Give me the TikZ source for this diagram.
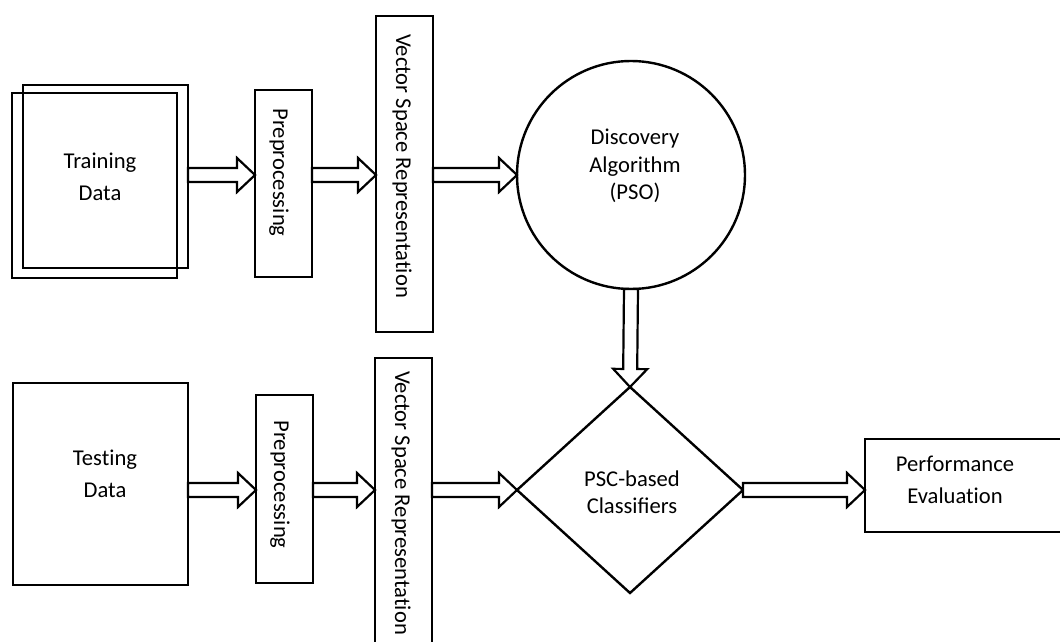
\documentclass[tikz,border=0pt]{standalone}
\usepackage{fontspec}
\setmainfont{Carlito}[Ligatures=NoCommon]
\usetikzlibrary{calc,shapes.geometric}
\tikzset{
  box/.style={draw, line width=2.4pt, inner sep=0pt, outer sep=0pt, rectangle},
  lbl/.style={align=center, inner sep=0pt, font=\fontsize{22.6}{32}\selectfont},
  lbltight/.style={align=center, inner sep=0pt, font=\fontsize{22.6}{27.5}\selectfont},
  barrow/.style={draw, line width=2.2pt, line join=miter, fill=white}
}
\newcommand\blockarrow[2]{%
  \draw[barrow] let \p1=(#1), \p2=(#2), \n1={atan2(\y2-\y1,\x2-\x1)}, \n2={veclen(\x2-\x1,\y2-\y1)} in
    ($(\p1)+(\n1+90:7pt)$)
    -- ($(\p1)+(\n1:{\n2-18pt})+(\n1+90:7pt)$)
    -- ($(\p1)+(\n1:{\n2-18pt})+(\n1+90:17pt)$)
    -- (\p2)
    -- ($(\p1)+(\n1:{\n2-18pt})+(\n1-90:17pt)$)
    -- ($(\p1)+(\n1:{\n2-18pt})+(\n1-90:7pt)$)
    -- ($(\p1)+(\n1-90:7pt)$) -- cycle;}
\begin{document}
\begin{tikzpicture}[x=1pt,y=-1pt]
\useasboundingbox (0,0) rectangle (1060,642);
\clip (0,0) rectangle (1060,642);
% top row
\node[box, minimum width=165pt, minimum height=183pt] (trainB) at (105.5,176.5) {};
\node[box, minimum width=165pt, minimum height=185pt] (trainF) at (94.5,185.5) {};
\node[lbl] (trainT) at (100,177) {Training\\Data};
\node[box, minimum width=57pt, minimum height=187pt] (pre1) at (283.5,183.5) {};
\node[lbl, rotate=-90] (pre1T) at (279,172.5) {Preprocessing};
\node[box, minimum width=57pt, minimum height=316pt] (vsr1) at (404.5,174) {};
\node[lbl, rotate=-90] (vsr1T) at (402,166) {Vector Space Representation};
\node[draw, line width=2.4pt, circle, minimum size=228pt, inner sep=0pt, outer sep=0pt] (circ) at (631,175) {};
\node[lbltight] (circT) at (635,166) {Discovery\\Algorithm\\(PSO)};
% bottom row
\node[box, minimum width=175pt, minimum height=202pt] (test) at (100.5,484) {};
\node[lbl] (testT) at (105,474) {Testing\\Data};
\node[box, minimum width=57pt, minimum height=188pt] (pre2) at (284.5,489) {};
\node[lbl, rotate=-90] (pre2T) at (280,484.5) {Preprocessing};
\node[box, minimum width=57pt, minimum height=322pt] (vsr2) at (403.5,519) {};
\node[lbl, rotate=-90] (vsr2T) at (401,503) {Vector Space Representation};
\node[draw, line width=2.4pt, diamond, minimum width=226pt, minimum height=206pt, inner sep=0pt, outer sep=0pt] (dia) at (630,490) {};
\node[lbltight] (diaT) at (632,492) {PSC-based\\Classi^^^^fb01ers};
\node[box, minimum width=215pt, minimum height=93pt] (perf) at (972.5,485.5) {};
\node[lbl] (perfT) at (955,480) {Performance\\Evaluation};
% arrows
\blockarrow{trainB.east |- circ.west}{pre1.west |- circ.west}
\blockarrow{pre1.east |- circ.west}{vsr1.west |- circ.west}
\blockarrow{vsr1.east |- circ.west}{circ.west}
\blockarrow{circ.south}{dia.north}
\blockarrow{test.east |- dia.west}{pre2.west |- dia.west}
\blockarrow{pre2.east |- dia.west}{vsr2.west |- dia.west}
\blockarrow{vsr2.east |- dia.west}{dia.west}
\blockarrow{dia.east}{perf.west |- dia.east}
\end{tikzpicture}
\end{document}
